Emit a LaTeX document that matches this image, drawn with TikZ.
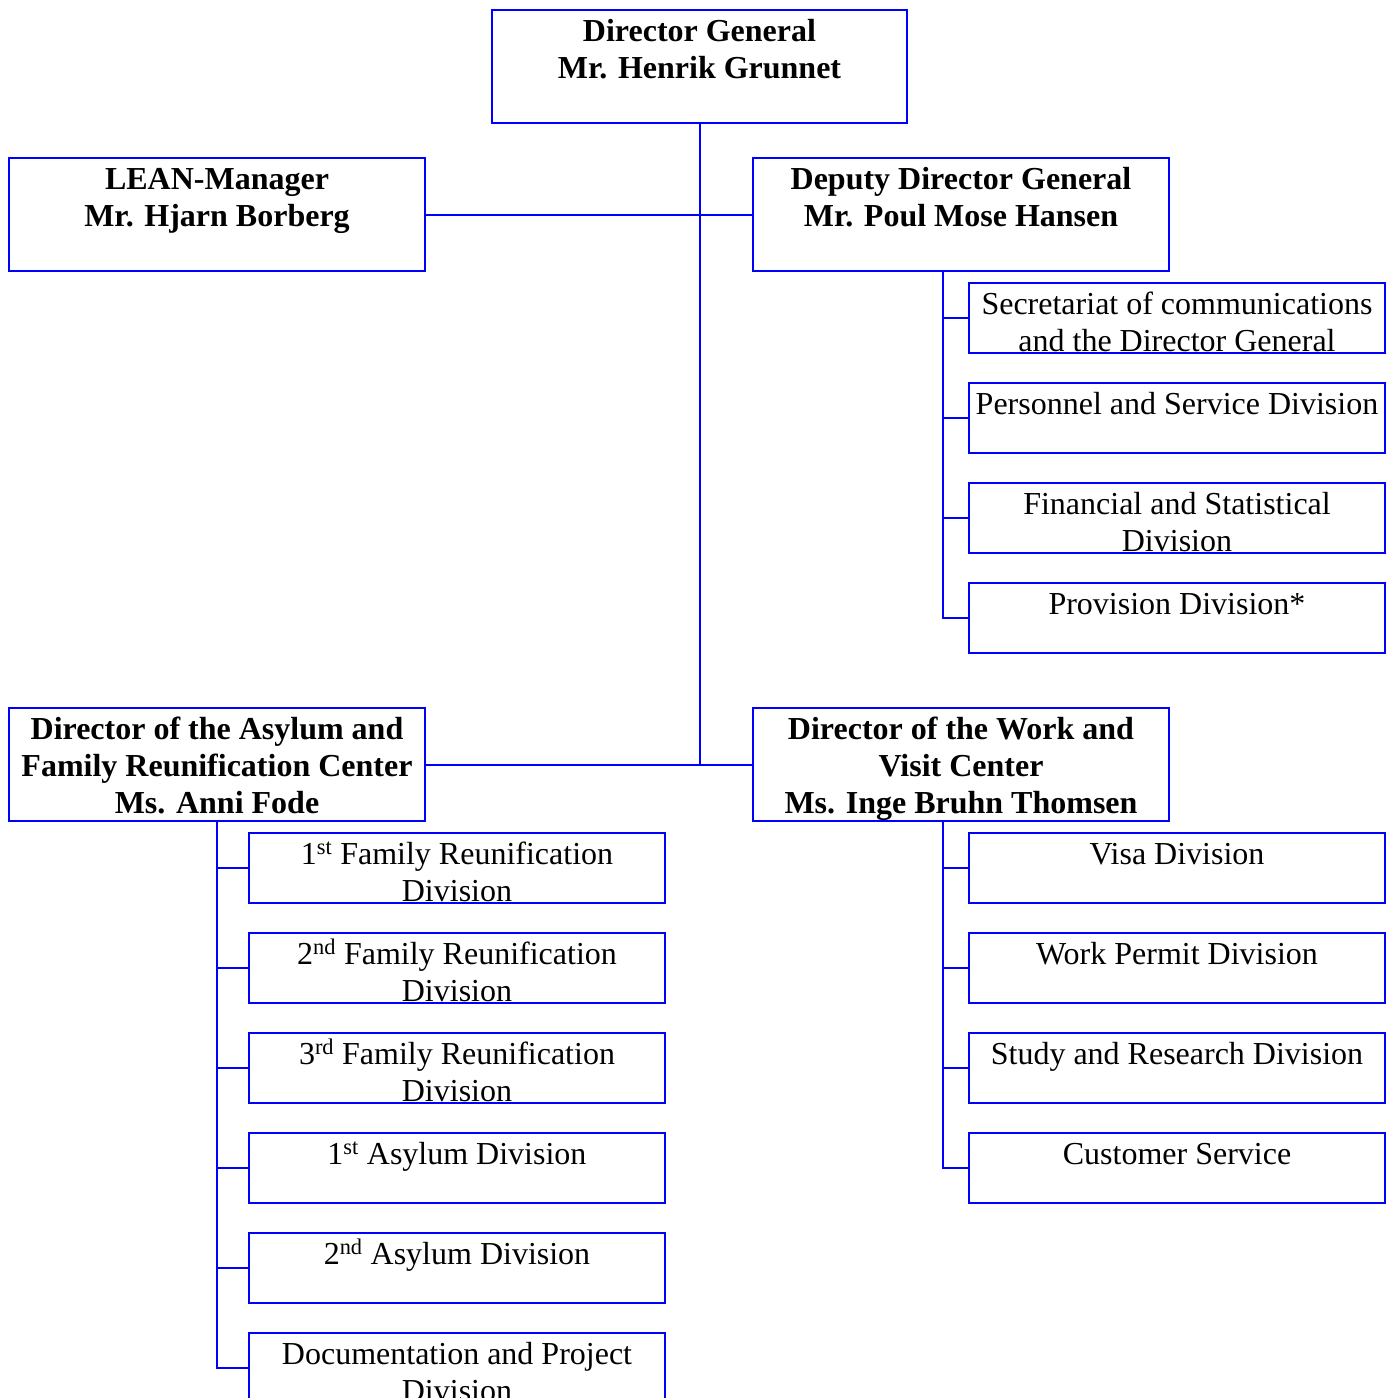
\documentclass[tikz,border=0pt]{standalone}
\usepackage{fontspec}
\setmainfont{Liberation Serif}
\newcommand{\boxtext}[3]{\parbox[c][#1][t]{#2}{\centering\rule{0pt}{31pt}#3}}
\tikzset{
  org/.style={draw=orgblue, line width=2pt, inner sep=0pt, outer sep=0pt, rectangle},
  link/.style={draw=orgblue, line width=2pt},
}
\definecolor{orgblue}{RGB}{0,0,255}
\begin{document}
\begin{tikzpicture}[x=1pt,y=-1pt,font=\fontsize{32}{37}\selectfont]
\useasboundingbox (0,0) rectangle (1393,1398);
% top level
\node[org] (dg) at (699.5,66.5) {\boxtext{113pt}{415pt}{\bfseries Director General\\Mr. Henrik Grunnet}};
\node[org] (lean) at (217,214.5) {\boxtext{113pt}{416pt}{\bfseries LEAN-Manager\\Mr. Hjarn Borberg}};
\node[org] (dep) at (961,214.5) {\boxtext{113pt}{416pt}{\bfseries Deputy Director General\\Mr. Poul Mose Hansen}};
\node[org] (asy) at (217,764.5) {\boxtext{113pt}{416pt}{\bfseries Director of the Asylum and\\Family Reunification Center\\Ms. Anni Fode}};
\node[org] (work) at (961,764.5) {\boxtext{113pt}{416pt}{\bfseries Director of the Work and\\Visit Center\\Ms. Inge Bruhn Thomsen}};
% deputy subs
\node[org] (sec) at (1177,318) {\boxtext{70pt}{416pt}{Secretariat of communications\\and the Director General}};
\node[org] (pers) at (1177,418) {\boxtext{70pt}{416pt}{Personnel and Service Division}};
\node[org] (fin) at (1177,518) {\boxtext{70pt}{416pt}{Financial and Statistical\\Division}};
\node[org] (prov) at (1177,618) {\boxtext{70pt}{416pt}{Provision Division*}};
% asylum subs
\node[org] (fr1) at (457,868) {\boxtext{70pt}{416pt}{1\textsuperscript{st} Family Reunification\\Division}};
\node[org] (fr2) at (457,968) {\boxtext{70pt}{416pt}{2\textsuperscript{nd} Family Reunification\\Division}};
\node[org] (fr3) at (457,1068) {\boxtext{70pt}{416pt}{3\textsuperscript{rd} Family Reunification\\Division}};
\node[org] (as1) at (457,1168) {\boxtext{70pt}{416pt}{1\textsuperscript{st} Asylum Division}};
\node[org] (as2) at (457,1268) {\boxtext{70pt}{416pt}{2\textsuperscript{nd} Asylum Division}};
\node[org] (doc) at (457,1368) {\boxtext{70pt}{416pt}{Documentation and Project\\Division}};
% work subs
\node[org] (visa) at (1177,868) {\boxtext{70pt}{416pt}{Visa Division}};
\node[org] (wp) at (1177,968) {\boxtext{70pt}{416pt}{Work Permit Division}};
\node[org] (study) at (1177,1068) {\boxtext{70pt}{416pt}{Study and Research Division}};
\node[org] (cust) at (1177,1168) {\boxtext{70pt}{416pt}{Customer Service}};
% connectors
\coordinate (hub) at (dg.south |- asy.east);
\draw[link] (dg.south) -- (hub);
\draw[link] (lean.east) -- (dep.west);
\draw[link] (asy.east) -- (work.west);
\coordinate (ds) at ([xshift=-26pt]sec.west |- dep.south);
\draw[link] (ds) |- (prov.west);
\foreach \n in {sec,pers,fin} \draw[link] (ds |- \n.west) -- (\n.west);
\draw[link] (asy.south) |- (doc.west);
\foreach \n in {fr1,fr2,fr3,as1,as2} \draw[link] (asy.south |- \n.west) -- (\n.west);
\coordinate (wsp) at ([xshift=-26pt]visa.west |- work.south);
\draw[link] (wsp) |- (cust.west);
\foreach \n in {visa,wp,study} \draw[link] (wsp |- \n.west) -- (\n.west);
\end{tikzpicture}
\end{document}
